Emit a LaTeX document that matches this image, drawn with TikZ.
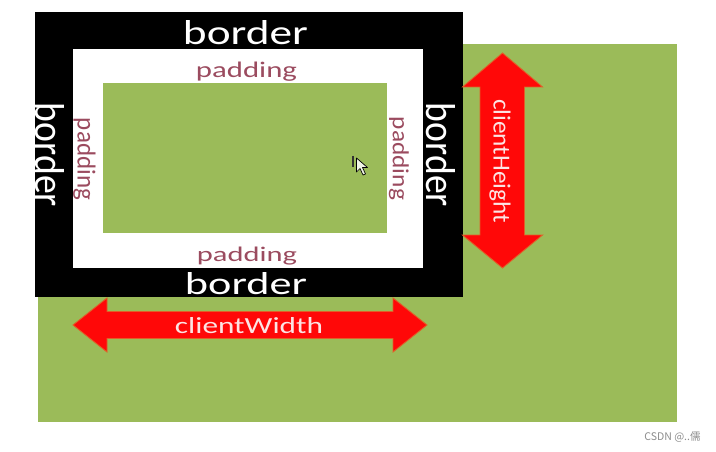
\documentclass[tikz,border=0pt]{standalone}
\usepackage{fontspec}
\usepackage{graphicx}
\setmainfont{Carlito}
\newfontfamily\cjkfont{Noto Sans CJK SC}
\definecolor{bggreen}{RGB}{155,187,89}
\definecolor{padtext}{RGB}{155,75,95}
\definecolor{arrowred}{RGB}{255,8,8}
\definecolor{arrowedge}{RGB}{225,95,40}
\definecolor{labelpink}{RGB}{252,228,228}
\definecolor{markgray}{RGB}{140,140,140}
\newcommand{\sizedtext}[3]{\resizebox{#1pt}{#2pt}{#3}}
\tikzset{
  txt/.style={inner sep=0pt, outer sep=0pt, anchor=center},
  bordertxt/.style={txt, text=white},
  padtxt/.style={txt, text=padtext},
  clienttxt/.style={txt, text=labelpink},
  bigarrow/.style={fill=arrowred, draw=arrowedge, line width=0.9pt, line join=miter},
}
\begin{document}
\begin{tikzpicture}[x=1pt,y=-1pt]
\useasboundingbox (0,0) rectangle (716,452);
\fill[white] (0,0) rectangle (716,452);
% outer green area
\fill[bggreen] (38,44) rectangle (677,422);
% border box
\fill[black] (35,12) rectangle (462.5,297);
\fill[white] (73,49) rectangle (423,268);
\fill[bggreen] (103,83) rectangle (387,233);
% border labels
\node[bordertxt] (btop) at (245.5,33) {\sizedtext{125}{24}{border}};
\node[bordertxt] (bbot) at (246,283.5) {\sizedtext{122}{22}{border}};
\node[bordertxt, rotate=-90] (bleft) at (50,155) {\sizedtext{104}{29}{border}};
\node[bordertxt, rotate=-90] (bright) at (441,155) {\sizedtext{104}{29}{border}};
% padding labels
\node[padtxt] (ptop) at (246.5,71.5) {\sizedtext{101}{15.5}{padding}};
\node[padtxt] (pbot) at (247,256) {\sizedtext{100}{14.5}{padding}};
\node[padtxt, rotate=-90] (pleft) at (84.5,159) {\sizedtext{82}{18}{padding}};
\node[padtxt, rotate=-90] (pright) at (399,158.5) {\sizedtext{83}{16}{padding}};
% clientWidth arrow
\draw[bigarrow] (73,325) -- (107,298) -- (107,311.5) -- (393,311.5) -- (393,298)
  -- (427,325) -- (393,352) -- (393,338.5) -- (107,338.5) -- (107,352) -- cycle;
\node[clienttxt] (cw) at (249,326) {\sizedtext{148}{16}{clientWidth}};
% clientHeight arrow
\draw[bigarrow] (502.5,53) -- (542.5,87) -- (524.5,87) -- (524.5,235) -- (542.5,235)
  -- (502.5,268) -- (462.5,235) -- (480,235) -- (480,87) -- (462.5,87) -- cycle;
\node[clienttxt, rotate=-90] (ch) at (500,161) {\sizedtext{124}{17}{clientHeight}};
% mouse pointer
\draw[black!80, line width=1.2pt] (353,156) -- (353,167);
\draw[black, line width=0.7pt, fill=white!85!bggreen, line join=round]
  (356.5,158) -- (356.5,172) -- (360,168.5) -- (363,175) -- (365.5,174) -- (362.5,167.5) -- (367.5,167.5) -- cycle;
% watermark
\node[txt, text=markgray, font=\cjkfont\fontsize{10.5}{12}\selectfont] (wm) at (672.5,437.5) {CSDN @..儒};
\end{tikzpicture}
\end{document}
